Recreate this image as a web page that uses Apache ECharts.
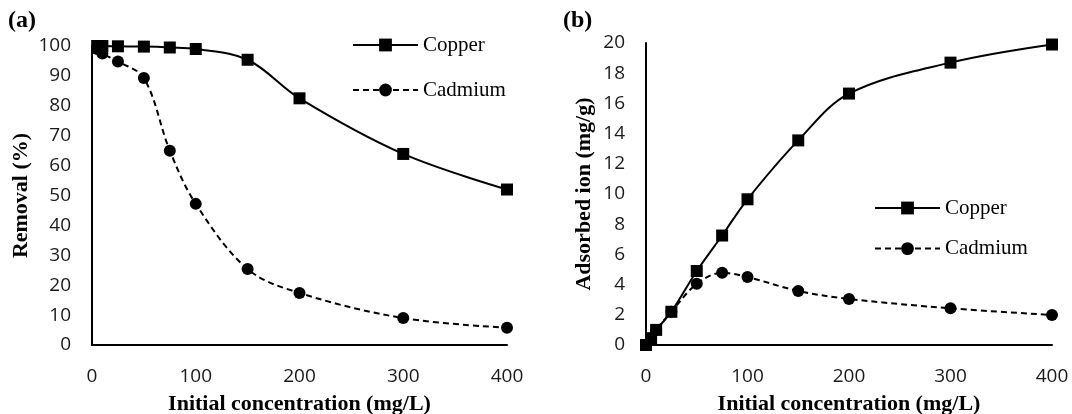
<!DOCTYPE html>
<html>
<head>
<meta charset="utf-8">
<script src="https://cdn.jsdelivr.net/npm/echarts@6/dist/echarts.min.js"></script>
<style>
html,body{margin:0;padding:0;background:#fff;}
#chart{width:1072px;height:414px;}
</style>
</head>
<body>
<div id="chart"></div>
<script>
// Panel (a): removal (%)
const xRemoval = [5, 10, 25, 50, 75, 100, 150, 200, 300, 400];
const copperRemoval = [100, 100, 99.9, 99.8, 99.5, 99.0, 95.4, 82.5, 63.9, 52.0];
const cadmiumRemoval = [99.0, 97.5, 94.8, 89.3, 65.0, 47.2, 25.4, 17.4, 9.0, 5.8];

// Panel (b): adsorbed ion (mg/g)
const xAdsorbed = [0, 5, 10, 25, 50, 75, 100, 150, 200, 300, 400];
const copperAdsorbed = [0, 0.45, 1.0, 2.2, 4.9, 7.25, 9.65, 13.55, 16.65, 18.7, 19.9];
const cadmiumAdsorbed = [0, 0.45, 1.0, 2.2, 4.05, 4.78, 4.5, 3.58, 3.05, 2.43, 1.99];

const seriesNames = ['Copper', 'Cadmium'];
const panelLabels = ['(a)', '(b)'];
const xTitle = 'Initial concentration (mg/L)';
const yTitles = ['Removal (%)', 'Adsorbed ion (mg/g)'];

const pairs = (xs, ys) => xs.map((x, i) => [x, ys[i]]);

const tickFont = {fontFamily: 'Open Sans', fontSize: 19, color: '#1a1a1a'};
const titleFont = {fontFamily: 'Liberation Serif', fontSize: 22, fontWeight: 'bold', color: '#000'};
const axisLine = {show: true, lineStyle: {color: '#000', width: 2}};

function xAxis(gi) {
  return {
    type: 'value', gridIndex: gi, min: 0, max: 400, interval: 100,
    axisLine: axisLine, axisTick: {show: false}, splitLine: {show: false},
    axisLabel: Object.assign({margin: 22}, tickFont),
    name: xTitle, nameLocation: 'middle', nameGap: 48, nameTextStyle: titleFont
  };
}
function yAxis(gi, max, interval, gap) {
  return {
    type: 'value', gridIndex: gi, min: 0, max: max, interval: interval,
    axisLine: axisLine, axisTick: {show: false}, splitLine: {show: false},
    axisLabel: Object.assign({margin: 21}, tickFont),
    name: yTitles[gi], nameLocation: 'middle', nameGap: gap, nameTextStyle: titleFont
  };
}
function line(name, gi, data, dashed) {
  return {
    name: name, type: 'line', xAxisIndex: gi, yAxisIndex: gi, data: data,
    smooth: 0.35,
    symbol: dashed ? 'circle' : 'rect', symbolSize: 12,
    itemStyle: {color: '#000'},
    lineStyle: {color: '#000', width: 2, type: dashed ? [6, 4] : 'solid'},
    z: dashed ? 2 : 3
  };
}
const legendText = {fontFamily: 'Liberation Serif', fontSize: 21, color: '#000', lineHeight: 24};

const option = {
  animation: false,
  backgroundColor: '#fff',
  title: [
    {text: panelLabels[0], left: 8, top: 9, padding: 0, textStyle: {fontFamily: 'Liberation Serif', fontSize: 24, fontWeight: 'bold', color: '#000'}},
    {text: panelLabels[1], left: 563, top: 9, padding: 0, textStyle: {fontFamily: 'Liberation Serif', fontSize: 24, fontWeight: 'bold', color: '#000'}}
  ],
  legend: [
    {orient: 'vertical', left: 352, top: 33, padding: 0, itemWidth: 65, itemHeight: 16, itemGap: 21, data: seriesNames, textStyle: legendText},
    {orient: 'vertical', left: 874, top: 196, padding: 0, itemWidth: 65, itemHeight: 16, itemGap: 16.6, data: seriesNames, textStyle: legendText}
  ],
  grid: [
    {left: 92, top: 46, width: 415, height: 299, containLabel: false, outerBoundsMode: 'none'},
    {left: 646, top: 43, width: 406, height: 302, containLabel: false, outerBoundsMode: 'none'}
  ],
  xAxis: [xAxis(0), xAxis(1)],
  yAxis: [yAxis(0, 100, 10, 60), yAxis(1, 20, 2, 51)],
  series: [
    line(seriesNames[0], 0, pairs(xRemoval, copperRemoval), false),
    line(seriesNames[1], 0, pairs(xRemoval, cadmiumRemoval), true),
    line(seriesNames[0], 1, pairs(xAdsorbed, copperAdsorbed), false),
    line(seriesNames[1], 1, pairs(xAdsorbed, cadmiumAdsorbed), true)
  ]
};
const chart = echarts.init(document.getElementById('chart'), null, {renderer: 'canvas'});
chart.setOption(option);
</script>
</body>
</html>
